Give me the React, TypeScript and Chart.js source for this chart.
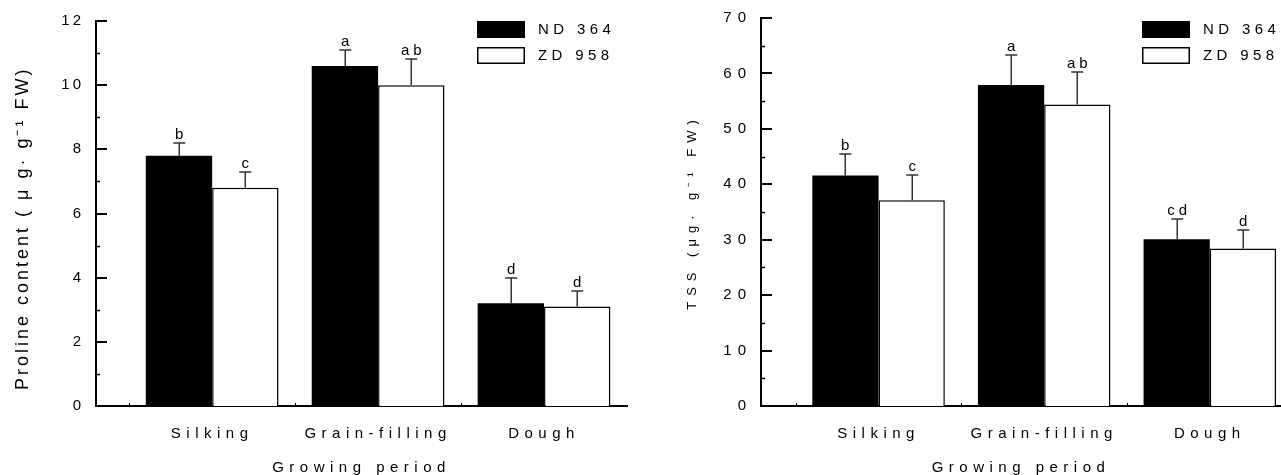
import React, { useEffect, useRef } from "react";
import { Chart, registerables } from "chart.js";

Chart.register(...registerables);

// ---------- data ----------
const categories = ["Silking", "Grain-filling", "Dough"];
const categoryPositions = [1, 2, 3];
const seriesNames = ["ND 364", "ZD 958"];

const prolineND = [7.8, 10.6, 3.2];
const prolineZD = [6.8, 10.0, 3.1];
const prolineNDErr = [0.4, 0.5, 0.8];
const prolineZDErr = [0.5, 0.8, 0.5];
const prolineNDLetters = ["b", "a", "d"];
const prolineZDLetters = ["c", "ab", "d"];
const prolineTicks = [0, 2, 4, 6, 8, 10, 12];
const prolineMinorTicks = [1, 3, 5, 7, 9, 11];

const tssND = [41.6, 57.9, 30.1];
const tssZD = [37.1, 54.4, 28.4];
const tssNDErr = [3.9, 5.4, 3.7];
const tssZDErr = [4.5, 5.8, 3.4];
const tssNDLetters = ["b", "a", "cd"];
const tssZDLetters = ["c", "ab", "d"];
const tssTicks = [0, 10, 20, 30, 40, 50, 60, 70];
const tssMinorTicks = [5, 15, 25, 35, 45, 55, 65];

const xMinorTicks = [0.5, 1.5, 2.5, 3.5];

const FONT = "'Liberation Sans', Arial, sans-serif";

type PanelCfg = {
  nd: number[];
  zd: number[];
  ndErr: number[];
  zdErr: number[];
  ndLetters: string[];
  zdLetters: string[];
  yTicks: number[];
  yMinor: number[];
  yMax: number;
  xMin: number;
  xMax: number;
  yTitle: string;
  yTitleSize: number;
  yTitlePad: number;
  yTitleAlign: string;
  yWidth: number;
  yLabelPad: number;
  ySpacing: number;
  padRight: number;
};

function makeDecor(cfg: PanelCfg) {
  const errs = [cfg.ndErr, cfg.zdErr];
  const letters = [cfg.ndLetters, cfg.zdLetters];
  return {
    id: "decor",
    beforeDraw(chart: any) {
      (chart.ctx as any).letterSpacing = "5.5px";
    },
    afterDatasetsDraw(chart: any) {
      const ctx = chart.ctx;
      const ys = chart.scales.y;
      ctx.save();
      chart.data.datasets.forEach((ds: any, di: number) => {
        const meta = chart.getDatasetMeta(di);
        meta.data.forEach((el: any, i: number) => {
          const v = ds.data[i].y;
          const top = Math.round(ys.getPixelForValue(v + errs[di][i]));
          const x = Math.round(el.x) + 0.25;
          ctx.strokeStyle = "#333";
          ctx.lineWidth = 1.5;
          ctx.beginPath();
          ctx.moveTo(x, el.y);
          ctx.lineTo(x, top);
          ctx.moveTo(x - 6, top);
          ctx.lineTo(x + 6, top);
          ctx.stroke();
          (ctx as any).letterSpacing = "4px";
          ctx.fillStyle = "#000";
          ctx.font = `15px ${FONT}`;
          ctx.textAlign = "center";
          ctx.textBaseline = "alphabetic";
          ctx.fillText(letters[di][i], x + 2, top - 4);
        });
      });
      ctx.restore();
      (ctx as any).letterSpacing = cfg.ySpacing + "px";
    },
    afterDraw(chart: any) {
      const ctx = chart.ctx;
      const area = chart.chartArea;
      const ys = chart.scales.y;
      const xs = chart.scales.x;
      ctx.save();
      ctx.strokeStyle = "#000";
      // inward major ticks
      ctx.lineWidth = 2;
      cfg.yTicks.forEach((v) => {
        const py = Math.round(ys.getPixelForValue(v));
        ctx.beginPath();
        ctx.moveTo(area.left, py);
        ctx.lineTo(area.left + 11, py);
        ctx.stroke();
      });
      // minor ticks
      ctx.lineWidth = 1.5;
      cfg.yMinor.forEach((v) => {
        const py = Math.round(ys.getPixelForValue(v)) + 0.5;
        ctx.beginPath();
        ctx.moveTo(area.left, py);
        ctx.lineTo(area.left + 4, py);
        ctx.stroke();
      });
      ctx.lineWidth = 1;
      xMinorTicks.forEach((v) => {
        const px = Math.round(xs.getPixelForValue(v)) + 0.5;
        if (px > area.left + 2 && px < area.right) {
          ctx.beginPath();
          ctx.moveTo(px, area.bottom);
          ctx.lineTo(px, area.bottom - 3);
          ctx.stroke();
        }
      });
      // legend
      const bx = area.left + 381;
      const ds = chart.data.datasets;
      const rows = [21, 47];
      ds.forEach((d: any, i: number) => {
        const y0 = rows[i];
        ctx.fillStyle = d.backgroundColor;
        ctx.fillRect(bx, y0, 48, 17);
        if (d.borderWidth) {
          ctx.lineWidth = 1.5;
          ctx.strokeStyle = d.borderColor;
          ctx.strokeRect(bx + 0.75, y0 + 0.75, 46.5, 15.5);
        }
        (ctx as any).letterSpacing = "4.4px";
        ctx.fillStyle = "#000";
        ctx.font = `15px ${FONT}`;
        ctx.textAlign = "left";
        ctx.textBaseline = "middle";
        ctx.fillText(d.label, bx + 61, y0 + 9);
      });
      ctx.restore();
    },
  };
}

function buildConfig(cfg: PanelCfg): any {
  return {
    type: "bar",
    data: {
      datasets: [
        {
          label: seriesNames[0],
          data: categoryPositions.map((x, i) => ({ x, y: cfg.nd[i] })),
          backgroundColor: "#000000",
          borderWidth: 0,
        },
        {
          label: seriesNames[1],
          data: categoryPositions.map((x, i) => ({ x, y: cfg.zd[i] })),
          backgroundColor: "#ffffff",
          borderColor: "#000000",
          borderWidth: 1.5,
        },
      ],
    },
    options: {
      responsive: false,
      animation: false,
      events: [],
      categoryPercentage: 0.8,
      barPercentage: 1.0,
      layout: { padding: { left: 0, right: cfg.padRight, top: 16, bottom: 0 } },
      plugins: {
        legend: { display: false },
        tooltip: { enabled: false },
        title: { display: false },
      },
      scales: {
        x: {
          type: "linear",
          offset: false,
          min: cfg.xMin,
          max: cfg.xMax,
          afterBuildTicks: (scale: any) => {
            scale.ticks = categoryPositions.map((v) => ({ value: v }));
          },
          afterFit: (scale: any) => {
            scale.height = 69;
          },
          grid: { display: false, offset: false, drawTicks: false, tickLength: 0 },
          border: { display: true, color: "#000", width: 2 },
          ticks: {
            autoSkip: false,
            maxRotation: 0,
            minRotation: 0,
            padding: 19,
            color: "#000",
            font: { family: FONT, size: 15 },
            callback: (v: number) => categories[Math.round(v) - 1] ?? "",
          },
          title: {
            display: true,
            text: "Growing period",
            color: "#000",
            font: { family: FONT, size: 15 },
            padding: { top: 0, bottom: -2 },
          },
        },
        y: {
          type: "linear",
          min: 0,
          max: cfg.yMax,
          afterBuildTicks: (scale: any) => {
            scale.ticks = cfg.yTicks.map((v) => ({ value: v }));
          },
          afterFit: (scale: any) => {
            scale.width = cfg.yWidth;
          },
          grid: { display: false, drawTicks: false, tickLength: 0, z: 1 },
          border: { display: true, color: "#000", width: 2, z: 1 },
          ticks: {
            z: 1,
            padding: cfg.yLabelPad,
            color: "#000",
            font: { family: FONT, size: 15 },
          },
          title: {
            display: true,
            text: cfg.yTitle,
            align: cfg.yTitleAlign,
            color: "#000",
            font: { family: FONT, size: cfg.yTitleSize },
            padding: { top: cfg.yTitlePad, bottom: 0 },
          },
        },
      },
    },
    plugins: [makeDecor(cfg)],
  };
}

const leftCfg: PanelCfg = {
  nd: prolineND,
  zd: prolineZD,
  ndErr: prolineNDErr,
  zdErr: prolineZDErr,
  ndLetters: prolineNDLetters,
  zdLetters: prolineZDLetters,
  yTicks: prolineTicks,
  yMinor: prolineMinorTicks,
  yMax: 12,
  xMin: 0.3,
  xMax: 3.5,
  yTitle: "  Proline content ( μ g· g⁻¹ FW)",
  yTitleSize: 18,
  yTitlePad: 12,
  yTitleAlign: "start",
  yWidth: 96,
  yLabelPad: 12,
  ySpacing: 3,
  padRight: 13,
};

const rightCfg: PanelCfg = {
  nd: tssND,
  zd: tssZD,
  ndErr: tssNDErr,
  zdErr: tssZDErr,
  ndLetters: tssNDLetters,
  zdLetters: tssZDLetters,
  yTicks: tssTicks,
  yMinor: tssMinorTicks,
  yMax: 70,
  xMin: 0.29,
  xMax: 3.43,
  yTitle: "TSS (μg· g⁻¹ FW)",
  yTitleSize: 13,
  yTitlePad: 45,
  yTitleAlign: "center",
  yWidth: 121,
  yLabelPad: 9,
  ySpacing: 6,
  padRight: 0,
};

function Panel({ cfg, left, width }: { cfg: PanelCfg; left: number; width: number }) {
  const ref = useRef<HTMLCanvasElement | null>(null);
  useEffect(() => {
    if (!ref.current) return;
    const chart = new Chart(ref.current, buildConfig(cfg));
    return () => chart.destroy();
  }, [cfg]);
  return (
    <canvas
      ref={ref}
      width={width}
      height={475}
      style={{ position: "absolute", left, top: 0, width, height: 475 }}
    />
  );
}

export default function App() {
  return (
    <div
      style={{
        position: "fixed",
        left: 0,
        top: 0,
        width: 1281,
        height: 475,
        background: "#ffffff",
        overflow: "hidden",
      }}
    >
      <Panel cfg={leftCfg} left={0} width={640} />
      <Panel cfg={rightCfg} left={640} width={641} />
    </div>
  );
}
